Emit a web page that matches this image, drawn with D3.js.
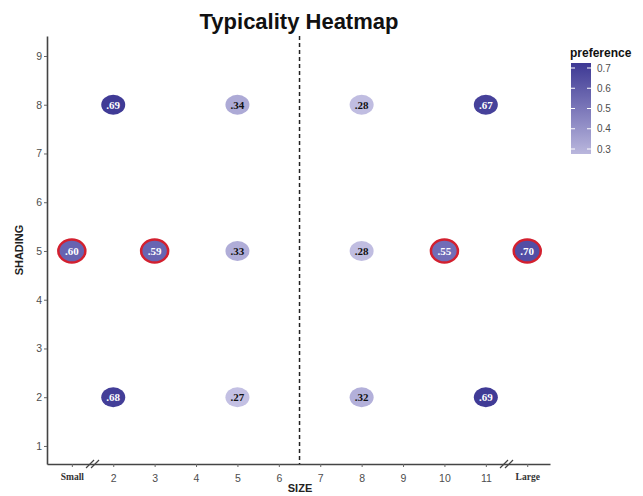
<!DOCTYPE html>
<html>
<head>
<meta charset="utf-8">
<script src="https://cdn.jsdelivr.net/npm/d3@7"></script>
<style>
  body { margin: 0; background: #fff; }
  svg { display: block; font-family: "Liberation Sans", Arial, sans-serif; }
</style>
</head>
<body>
<div id="chart"></div>
<script>
// data (x position 1 = Small, 12 = Large)
var xPos = [2, 5, 8, 11, 1, 3, 5, 8, 10, 12, 2, 5, 8, 11];
var yPos = [8, 8, 8, 8, 5, 5, 5, 5, 5, 5, 2, 2, 2, 2];
var prefs = [0.69, 0.34, 0.28, 0.67, 0.60, 0.59, 0.33, 0.28, 0.55, 0.70, 0.68, 0.27, 0.32, 0.69];
var labels = [".69", ".34", ".28", ".67", ".60", ".59", ".33", ".28", ".55", ".70", ".68", ".27", ".32", ".69"];
var ringed = [false, false, false, false, true, true, false, false, true, true, false, false, false, false];
var xTicks = [1, 2, 3, 4, 5, 6, 7, 8, 9, 10, 11, 12];
var xTickLabels = ["Small", "2", "3", "4", "5", "6", "7", "8", "9", "10", "11", "Large"];
var yTicks = [1, 2, 3, 4, 5, 6, 7, 8, 9];
var legendTicks = [0.3, 0.4, 0.5, 0.6, 0.7];

var W = 643, H = 496;
var svg = d3.select("#chart").append("svg").attr("width", W).attr("height", H);

var x = d3.scaleLinear().domain([0.4, 12.55]).range([47, 550]);
var y = d3.scaleLinear().domain([0.63, 9.41]).range([464, 36]);
var color = d3.scaleLinear().domain([0.27, 0.7]).range(["#c3c0e3", "#3d3894"]);

// title
svg.append("text").attr("x", 299).attr("y", 29).attr("text-anchor", "middle")
  .style("font-size", "22px").style("font-weight", "bold").style("fill", "#111")
  .text("Typicality Heatmap");

// axes
var yAxis = svg.append("g").attr("transform", "translate(47,0)")
  .call(d3.axisLeft(y).tickValues(yTicks).tickFormat(d3.format("d")).tickSize(3).tickSizeOuter(0));
var xAxis = svg.append("g").attr("transform", "translate(0,464)")
  .call(d3.axisBottom(x).tickValues(xTicks).tickFormat((d, i) => xTickLabels[i]).tickSize(3).tickSizeOuter(0));
[yAxis, xAxis].forEach(function (a) {
  a.select(".domain").attr("stroke", "#444").attr("stroke-width", 1.6);
  a.selectAll(".tick line").attr("stroke", "#666");
  a.selectAll(".tick text").style("font-size", "10.5px").style("fill", "#4d4d4d")
    .style("font-family", "'Liberation Sans', Arial, sans-serif");
});
yAxis.selectAll(".tick text").attr("x", -5);
xAxis.selectAll(".tick text").attr("dy", "1.1em");
xAxis.selectAll(".tick text").filter((d, i) => i == 0 || i == xTicks.length - 1)
  .style("font-family", "'Liberation Serif', 'Times New Roman', serif")
  .style("font-weight", "bold").style("font-size", "9.5px").style("fill", "#333");

// axis break marks
[1.5, 11.5].forEach(function (b) {
  [-2.5, 2.5].forEach(function (o) {
    svg.append("line")
      .attr("x1", x(b) + o - 4).attr("y1", 468)
      .attr("x2", x(b) + o + 4).attr("y2", 460)
      .attr("stroke", "#444").attr("stroke-width", 1.2);
  });
});

// axis titles
svg.append("text").attr("x", 300).attr("y", 492).attr("text-anchor", "middle")
  .style("font-size", "11px").style("font-weight", "bold").style("fill", "#222").text("SIZE");
svg.append("text").attr("transform", "translate(23,250) rotate(-90)").attr("text-anchor", "middle")
  .style("font-size", "11px").style("font-weight", "bold").style("fill", "#222").text("SHADING");

// dashed divider
svg.append("line").attr("x1", x(6.5)).attr("x2", x(6.5)).attr("y1", y(9.41)).attr("y2", y(0.63))
  .attr("stroke", "#222").attr("stroke-width", 1.5).attr("stroke-dasharray", "4,3");

// points
var pts = xPos.map((d, i) => ({ x: d, y: yPos[i], v: prefs[i], l: labels[i], r: ringed[i] }));
var g = svg.append("g").selectAll("g").data(pts).enter().append("g")
  .attr("transform", d => "translate(" + x(d.x) + "," + y(d.y) + ")");
g.append("ellipse").attr("rx", d => d.r ? 13.5 : 12).attr("ry", d => d.r ? 11.5 : 10)
  .attr("fill", d => d.r ? d3.interpolateRgb(color(d.v), "#7a77c4")(0.35) : color(d.v))
  .attr("stroke", d => d.r ? "#d3202f" : "none").attr("stroke-width", 2.5);
g.append("text").attr("text-anchor", "middle").attr("dy", "0.35em")
  .style("font-family", "'Liberation Serif', 'Times New Roman', serif")
  .style("font-weight", "bold").style("font-size", "11px")
  .style("fill", d => d.v > 0.45 ? "#fff" : "#111")
  .text(d => d.l);

// legend
var defs = svg.append("defs");
var grad = defs.append("linearGradient").attr("id", "lg").attr("x1", 0).attr("x2", 0).attr("y1", 1).attr("y2", 0);
legendTicks.forEach(function (t) {
  grad.append("stop").attr("offset", (t - 0.3) / 0.4).attr("stop-color", color(t));
});
var ly = d3.scaleLinear().domain([0.3, 0.7]).range([149, 68]);
svg.append("text").attr("x", 570).attr("y", 57)
  .style("font-size", "12px").style("font-weight", "bold").style("fill", "#111").text("preference");
svg.append("rect").attr("x", 571).attr("y", 63).attr("width", 20).attr("height", 91).attr("fill", "url(#lg)");
var lg = svg.append("g").attr("transform", "translate(591,0)")
  .call(d3.axisRight(ly).tickValues(legendTicks).tickFormat(d3.format(".1f")).tickSize(0));
lg.select(".domain").remove();
lg.selectAll(".tick text").attr("x", 6).style("font-size", "10px").style("fill", "#4d4d4d");
legendTicks.forEach(function (t) {
  [571, 587].forEach(function (px) {
    svg.append("line").attr("x1", px).attr("x2", px + 4).attr("y1", ly(t)).attr("y2", ly(t))
      .attr("stroke", "#fff").attr("stroke-width", 1);
  });
});
</script>
</body>
</html>
